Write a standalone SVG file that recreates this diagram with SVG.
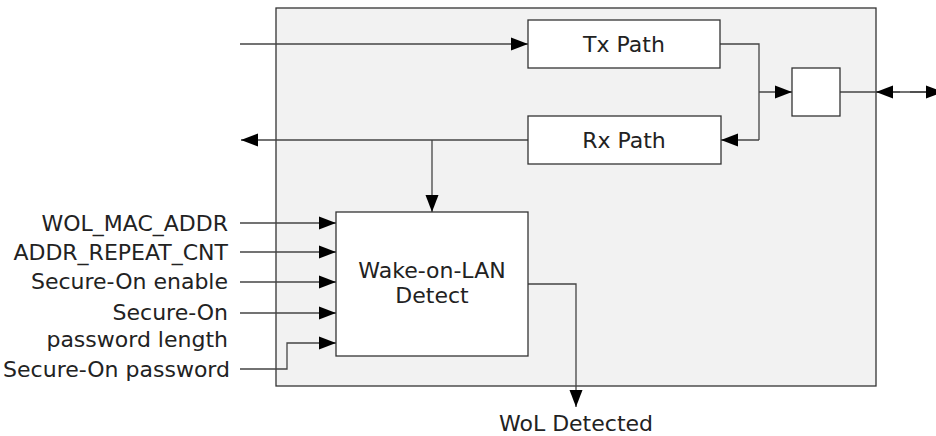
<svg xmlns="http://www.w3.org/2000/svg" width="936" height="436" viewBox="0 0 936 436">
<defs>
<marker id="ah" markerWidth="18" markerHeight="14" refX="17" refY="7" orient="auto" markerUnits="userSpaceOnUse">
<path d="M0,0.5 L17,7 L0,13.5 Z" fill="#000"/>
</marker>
</defs>
<style>
.box{fill:#fff;stroke:#333;stroke-width:1.3}
.outer{fill:#f2f2f2;stroke:#333;stroke-width:1.3}
.ln{fill:none;stroke:#444;stroke-width:1.3}
.arr{fill:none;stroke:#444;stroke-width:1.3;marker-end:url(#ah)}
text{font-family:"DejaVu Sans",Verdana,sans-serif;font-size:22px;fill:#222}
.r{text-anchor:end}
.c{text-anchor:middle}
</style>
<rect id="outer" class="outer" x="276" y="8" width="600" height="378"/>
<g id="connectors">
<path class="arr" d="M240,44 H528"/>
<path class="ln" d="M720,44 H759 V140"/>
<path class="arr" d="M759,140 H721"/>
<path class="arr" d="M759,92 H792"/>
<path class="ln" d="M840,92 H936"/>
<path class="arr" d="M900,92 H876"/>
<path class="arr" d="M910,92 H943"/>
<path class="arr" d="M528,140 H241"/>
<path class="arr" d="M432,140 V212"/>
<path class="arr" d="M240,223 H336"/>
<path class="arr" d="M240,252 H336"/>
<path class="arr" d="M240,282 H336"/>
<path class="arr" d="M240,313 H336"/>
<path class="arr" d="M240,369 H287 V343 H336"/>
<path class="arr" d="M528,284 H576 V407"/>
</g>
<g id="tx"><rect class="box" x="528" y="20" width="192" height="48"/><text class="c" x="624" y="52">Tx Path</text></g>
<g id="rx"><rect class="box" x="528" y="116" width="193" height="48"/><text class="c" x="624" y="148">Rx Path</text></g>
<g id="mux"><rect class="box" x="792" y="68" width="48" height="48"/></g>
<g id="wol"><rect class="box" x="336" y="212" width="192" height="144"/>
<text class="c" x="432" y="278">Wake-on-LAN</text><text class="c" x="432" y="303">Detect</text></g>
<g id="labels">
<text class="r" x="228" y="231">WOL_MAC_ADDR</text>
<text class="r" x="228" y="260">ADDR_REPEAT_CNT</text>
<text class="r" x="228" y="289">Secure-On enable</text>
<text class="r" x="228" y="320">Secure-On</text>
<text class="r" x="228" y="347">password length</text>
<text class="r" x="230" y="377">Secure-On password</text>
<text class="c" x="576" y="431">WoL Detected</text>
</g>
</svg>
